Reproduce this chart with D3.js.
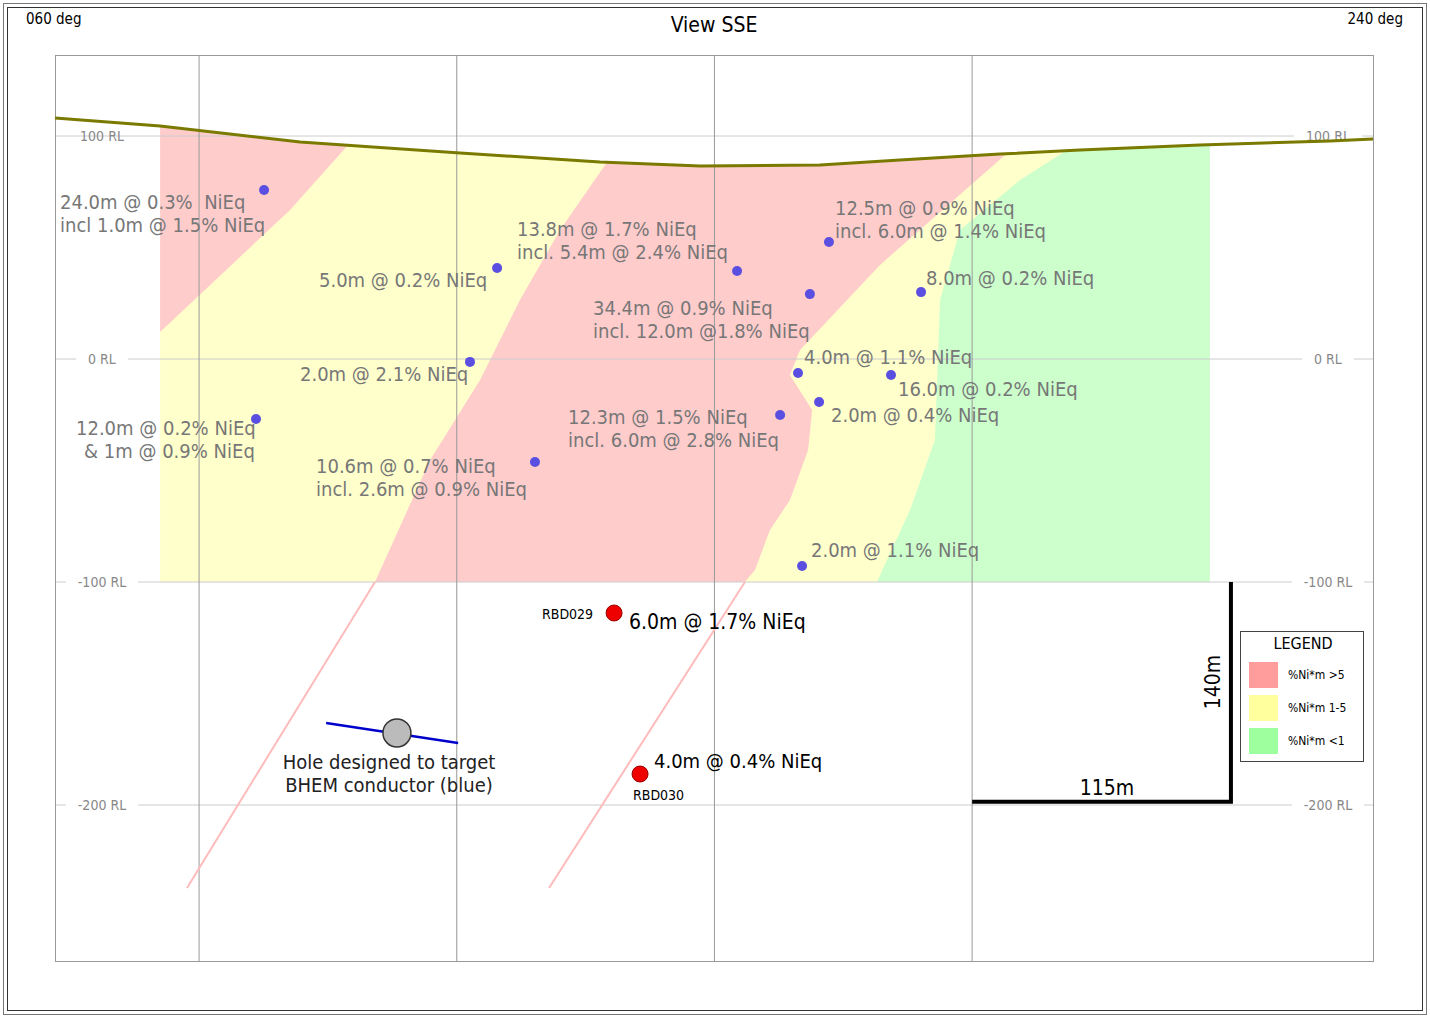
<!DOCTYPE html>
<html><head><meta charset="utf-8">
<script src="https://cdn.jsdelivr.net/npm/d3@7"></script>
<style>body{margin:0;background:#fff}svg{display:block}text{font-family:"DejaVu Sans Condensed","DejaVu Sans",sans-serif;white-space:pre}</style>
</head><body><svg id="c" width="1430" height="1018"></svg>
<script>
// section coordinates: metres along section, RL (metres)
const xTicks = [0, 115, 230, 345];
const rlTicks = [100, 0, -100, -200];
const surface = [[-64.3,108.1],[-17.4,104.5],[45.1,97.3],[116.5,92.4],[178.9,88.3],[223.6,86.5],[277.1,87.0],[312.8,89.2],[357.4,91.9],[393.1,93.7],[446.7,96.0],[504.7,97.8],[523.9,98.7]];
const zoneYellow = [[-17.4,115],[451.1,115],[451.1,-100],[-17.4,-100]];
const zonePinkLeft = [[-17.4,115],[73,115],[66.5,96.0],[40.6,66.8],[-17.4,12.1]];
const zonePinkMid = [[178.9,115],[182.1,88.3],[161.1,57.8],[143.2,26.5],[125.4,-9.4],[103.1,-45.3],[78.5,-100],[243.6,-100],[248.1,-94.6],[254.8,-76.7],[263.7,-63.2],[271.8,-40.8],[273.6,-22.9],[263.7,-7.2],[268.2,4.0],[303.9,42.2],[359.7,91.5],[366.4,115]];
const zoneGreen = [[390.9,115],[451.1,115],[451.1,-100],[302.5,-100],[317.3,-67.7],[328.4,-36.3],[330.7,26.5],[339.6,57.8],[366.4,80.3],[390.9,96.0]];
const traces = [[[78.5,-100],[-5.4,-237.2]],[[243.6,-100],[156.2,-237.2]]];
const intercepts = [[29.0,75.8],[133.0,40.8],[120.9,-1.3],[25.4,-26.9],[149.9,-46.2],[240.1,39.5],[281.1,52.5],[272.6,29.1],[322.2,30.0],[267.3,-6.3],[308.8,-7.2],[276.7,-19.3],[259.3,-25.1],[269.1,-92.8]];
const newHoles = [[185.2,-113.9],[196.8,-186.1]];
const bhem = [[56.7,-163.2],[115.6,-172.2]];
const bhemTarget = [88.3,-167.7];
const labels = [
 ["24.0m @ 0.3%  NiEq",60,209],["incl 1.0m @ 1.5% NiEq",60,232],
 ["13.8m @ 1.7% NiEq",517,236],["incl. 5.4m @ 2.4% NiEq",517,259],
 ["5.0m @ 0.2% NiEq",319,287],
 ["12.5m @ 0.9% NiEq",835,215],["incl. 6.0m @ 1.4% NiEq",835,238],
 ["8.0m @ 0.2% NiEq",926,285],
 ["34.4m @ 0.9% NiEq",593,315],["incl. 12.0m @1.8% NiEq",593,338],
 ["4.0m @ 1.1% NiEq",804,364],["2.0m @ 2.1% NiEq",300,381],
 ["16.0m @ 0.2% NiEq",898,396],["2.0m @ 0.4% NiEq",831,422],
 ["12.3m @ 1.5% NiEq",568,424],["incl. 6.0m @ 2.8% NiEq",568,447],
 ["12.0m @ 0.2% NiEq",76,435],["& 1m @ 0.9% NiEq",84,458],
 ["10.6m @ 0.7% NiEq",316,473],["incl. 2.6m @ 0.9% NiEq",316,496],
 ["2.0m @ 1.1% NiEq",811,557]
];
const legendItems = [["%Ni*m >5","#ff9d9d"],["%Ni*m 1-5","#ffff9d"],["%Ni*m <1","#9dff9d"]];

const svg = d3.select("#c");
const x = d3.scaleLinear().domain([-64.3, 523.9]).range([55, 1373]);
const y = d3.scaleLinear().domain([100, -200]).range([136, 805]);
const line = d3.line().x(d => x(d[0])).y(d => y(d[1]));

// outer frame
svg.append("rect").attr("x",3.5).attr("y",3.5).attr("width",1423).attr("height",1011).attr("fill","none").attr("stroke","#777");
svg.append("rect").attr("x",7.5).attr("y",7.5).attr("width",1415).attr("height",1003).attr("fill","none").attr("stroke","#333");

// clip below surface
const below = surface.concat([[523.9,-100],[-64.3,-100]]);
svg.append("clipPath").attr("id","ground").append("path").attr("d", line(below) + "Z");
const zones = svg.append("g").attr("clip-path","url(#ground)");
[[zoneYellow,"#ffffcc"],[zonePinkLeft,"#ffcccc"],[zonePinkMid,"#ffcccc"],[zoneGreen,"#ccffcc"]].forEach(([p,c]) =>
  zones.append("path").attr("d", line(p) + "Z").attr("fill", c));

// grid
rlTicks.forEach(r => svg.append("line").attr("x1",55).attr("x2",1373).attr("y1",y(r)).attr("y2",y(r)).attr("stroke","#ccc"));
xTicks.forEach(m => svg.append("line").attr("x1",x(m)).attr("x2",x(m)).attr("y1",55).attr("y2",961).attr("stroke","#999"));
svg.append("rect").attr("x",55.5).attr("y",55.5).attr("width",1318).attr("height",906).attr("fill","none").attr("stroke","#999");
rlTicks.forEach(r => {
  [102, 1328].forEach(cx => {
    const t = svg.append("text").attr("x",cx).attr("y",y(r)+5).attr("text-anchor","middle").attr("font-size",14).attr("fill","#888").text(r + " RL");
    const bb = t.node().getBBox();
    if (r !== 100 || cx > 200)
      svg.insert("rect", () => t.node()).attr("x",bb.x-12).attr("y",y(r)-2).attr("width",bb.width+24).attr("height",4).attr("fill","#fff");
  });
});

// traces
traces.forEach(t => svg.append("path").attr("d", line(t)).attr("stroke","#ffbbbb").attr("stroke-width",2).attr("fill","none"));

// surface
svg.append("path").attr("d", line(surface)).attr("fill","none").attr("stroke","#7a7a00").attr("stroke-width",3);

// intercepts
svg.selectAll(".ic").data(intercepts).join("circle").attr("cx",d=>x(d[0])).attr("cy",d=>y(d[1])).attr("r",5).attr("fill","#5a4fe0");
svg.selectAll(".nh").data(newHoles).join("circle").attr("cx",d=>x(d[0])).attr("cy",d=>y(d[1])).attr("r",8).attr("fill","#ee0000").attr("stroke","#900").attr("stroke-width",1);

// BHEM
svg.append("path").attr("d", line(bhem)).attr("stroke","#0000cc").attr("stroke-width",2.5);
svg.append("circle").attr("cx",x(bhemTarget[0])).attr("cy",y(bhemTarget[1])).attr("r",14).attr("fill","#bbb").attr("stroke","#333").attr("stroke-width",1.5);
svg.append("text").attr("x",389).attr("y",769).attr("text-anchor","middle").attr("font-size",20).attr("fill","#222").text("Hole designed to target");
svg.append("text").attr("x",389).attr("y",792).attr("text-anchor","middle").attr("font-size",20).attr("fill","#222").text("BHEM conductor (blue)");

// labels
svg.selectAll(".lb").data(labels).join("text").attr("x",d=>d[1]).attr("y",d=>d[2]).attr("font-size",20).attr("fill","#777").text(d=>d[0]);
svg.append("text").attr("x",629).attr("y",629).attr("font-size",21).attr("fill","#000").text("6.0m @ 1.7% NiEq");
svg.append("text").attr("x",542).attr("y",619).attr("font-size",14).attr("fill","#000").text("RBD029");
svg.append("text").attr("x",654).attr("y",768).attr("font-size",20).attr("fill","#000").text("4.0m @ 0.4% NiEq");
svg.append("text").attr("x",633).attr("y",800).attr("font-size",14).attr("fill","#000").text("RBD030");

// scale bars
svg.append("path").attr("d", `M${x(345)},${y(-198.5)}H${x(460.5)}V${y(-100)}`).attr("fill","none").attr("stroke","#000").attr("stroke-width",4);
svg.append("text").attr("x",1107).attr("y",795).attr("text-anchor","middle").attr("font-size",21).text("115m");
svg.append("text").attr("transform","translate(1220,682) rotate(-90)").attr("text-anchor","middle").attr("font-size",21).text("140m");

// legend
const lg = svg.append("g").attr("transform","translate(1240,631)");
lg.append("rect").attr("x",0.5).attr("y",0.5).attr("width",123).attr("height",130).attr("fill","#fff").attr("stroke","#444");
lg.append("text").attr("x",63).attr("y",18).attr("text-anchor","middle").attr("font-size",16).text("LEGEND");
legendItems.forEach((d,i) => {
  lg.append("rect").attr("x",9).attr("y",31+i*33).attr("width",29).attr("height",26).attr("fill",d[1]);
  lg.append("text").attr("x",48).attr("y",48+i*33).attr("font-size",12).text(d[0]);
});

// titles
svg.append("text").attr("x",714).attr("y",32).attr("text-anchor","middle").attr("font-size",21).text("View SSE");
svg.append("text").attr("x",26).attr("y",24).attr("font-size",15).text("060 deg");
svg.append("text").attr("x",1403).attr("y",24).attr("text-anchor","end").attr("font-size",15).text("240 deg");
</script></body></html>
